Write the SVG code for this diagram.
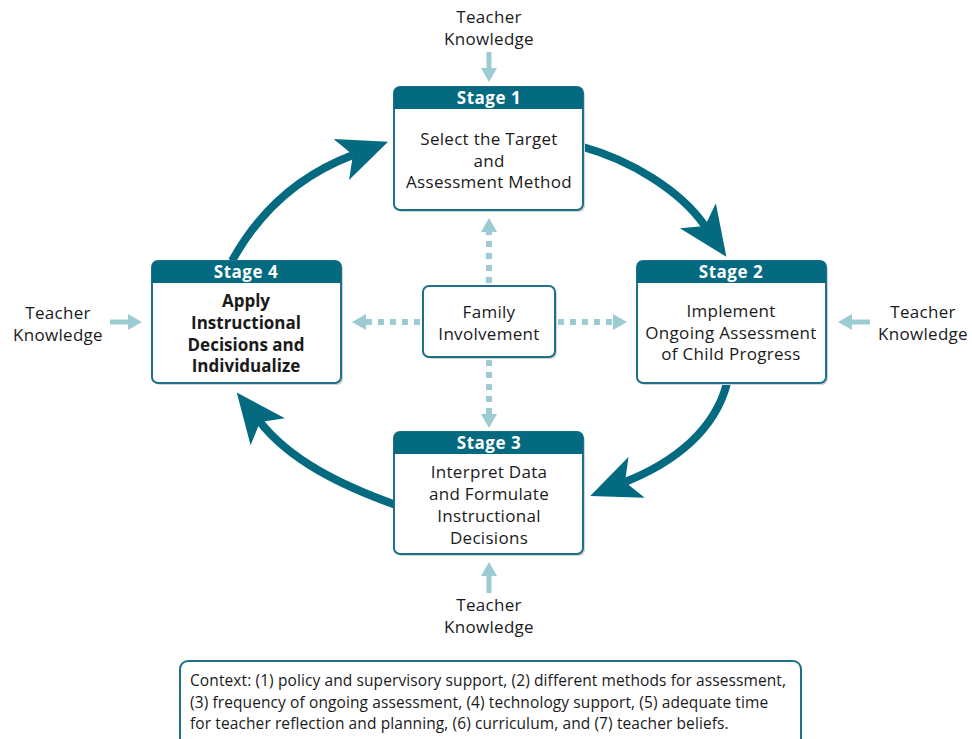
<svg xmlns="http://www.w3.org/2000/svg" width="972" height="739" viewBox="0 0 972 739">
<defs>
<style>
.box{fill:#fff;stroke:#1d7087;stroke-width:2}
.shadow{fill:#d0d4d6}
.hdr{fill:#036a80}
.ht{font-family:"Open Sans","Liberation Sans",sans-serif;font-size:17px;font-weight:bold;letter-spacing:0.5px;fill:#fff;text-anchor:middle}
.t{font-family:"Open Sans","Liberation Sans",sans-serif;font-size:17px;letter-spacing:0.3px;fill:#1a1a1a;text-anchor:middle}
.tb{font-weight:bold;letter-spacing:0px}
.ctx{font-family:"Open Sans","Liberation Sans",sans-serif;font-size:15.5px;letter-spacing:0.1px;fill:#1a1a1a}
.big{fill:none;stroke:#036a80;stroke-width:8}
.dot{fill:none;stroke:#9ccbd3;stroke-width:6;stroke-dasharray:6 6}
.tk{fill:none;stroke:#9ccbd3;stroke-width:5}
.lb{fill:#9ccbd3}
</style>
<marker id="bigHead" markerUnits="userSpaceOnUse" orient="auto" refX="0" refY="0" markerWidth="60" markerHeight="50" viewBox="-14 -24 52 48" overflow="visible">
<path d="M36,0 L-12,-21 L0,0 L-12,21 Z" fill="#036a80"/>
</marker>
</defs>

<g id="connectors">
<path class="big" d="M583,147 C630,160 680,190 705,226" marker-end="url(#bigHead)"/>
<path class="big" d="M727,383 C715,430 675,462 625,482" marker-end="url(#bigHead)"/>
<path class="big" d="M396,505 C340,485 290,460 260,422" marker-end="url(#bigHead)"/>
<path class="big" d="M232,261 C260,210 300,175 353,155" marker-end="url(#bigHead)"/>

<path class="dot" d="M489,283 V232"/>
<polygon class="lb" points="489,218 481,232 497,232"/>
<path class="dot" d="M489,360 V414"/>
<polygon class="lb" points="489,428 481,414 497,414"/>
<path class="dot" d="M420,322 H366"/>
<polygon class="lb" points="352,322 366,314 366,330"/>
<path class="dot" d="M558,322 H613"/>
<polygon class="lb" points="627,322 613,314 613,330"/>

<path class="tk" d="M489,52 V70"/>
<polygon class="lb" points="489,82 481,68 497,68"/>
<path class="tk" d="M110,322 H130"/>
<polygon class="lb" points="142,322 128,314 128,330"/>
<path class="tk" d="M870,322 H850"/>
<polygon class="lb" points="838,322 852,314 852,330"/>
<path class="tk" d="M489,593 V575"/>
<polygon class="lb" points="489,562 481,576 497,576"/>
</g>

<g id="tk-top">
<text class="t" x="489" y="23">Teacher</text>
<text class="t" x="489" y="44.5">Knowledge</text>
</g>
<g id="tk-left">
<text class="t" x="58" y="319">Teacher</text>
<text class="t" x="58" y="341">Knowledge</text>
</g>
<g id="tk-right">
<text class="t" x="923" y="318">Teacher</text>
<text class="t" x="923" y="339.5">Knowledge</text>
</g>
<g id="tk-bottom">
<text class="t" x="489" y="611">Teacher</text>
<text class="t" x="489" y="633">Knowledge</text>
</g>

<g id="stage1">
<rect class="shadow" x="396" y="89" width="189" height="123" rx="6"/>
<rect class="box" x="394" y="87" width="189" height="123" rx="6"/>
<path class="hdr" d="M394,109 V93 Q394,87 400,87 H577 Q583,87 583,93 V109 Z"/>
<text class="ht" x="489" y="104">Stage 1</text>
<text class="t" x="489" y="145">Select the Target</text>
<text class="t" x="489" y="166.5">and</text>
<text class="t" x="489" y="188">Assessment Method</text>
</g>

<g id="stage2">
<rect class="shadow" x="639" y="263" width="189" height="122" rx="6"/>
<rect class="box" x="637" y="261" width="189" height="122" rx="6"/>
<path class="hdr" d="M637,283 V267 Q637,261 643,261 H820 Q826,261 826,267 V283 Z"/>
<text class="ht" x="731" y="278">Stage 2</text>
<text class="t" x="731" y="317">Implement</text>
<text class="t" x="731" y="338.5">Ongoing Assessment</text>
<text class="t" x="731" y="360">of Child Progress</text>
</g>

<g id="stage3">
<rect class="shadow" x="396" y="434" width="189" height="122" rx="6"/>
<rect class="box" x="394" y="432" width="189" height="122" rx="6"/>
<path class="hdr" d="M394,454 V438 Q394,432 400,432 H577 Q583,432 583,438 V454 Z"/>
<text class="ht" x="489" y="449">Stage 3</text>
<text class="t" x="489" y="478">Interpret Data</text>
<text class="t" x="489" y="500">and Formulate</text>
<text class="t" x="489" y="522">Instructional</text>
<text class="t" x="489" y="543.5">Decisions</text>
</g>

<g id="stage4">
<rect class="shadow" x="154" y="263" width="189" height="122" rx="6"/>
<rect class="box" x="152" y="261" width="189" height="122" rx="6"/>
<path class="hdr" d="M152,283 V267 Q152,261 158,261 H335 Q341,261 341,267 V283 Z"/>
<text class="ht" x="246" y="278">Stage 4</text>
<text class="t tb" x="246" y="307">Apply</text>
<text class="t tb" x="246" y="329">Instructional</text>
<text class="t tb" x="246" y="350.5">Decisions and</text>
<text class="t tb" x="246" y="372">Individualize</text>
</g>

<g id="family">
<rect class="shadow" x="425" y="288" width="132" height="71" rx="6"/>
<rect class="box" x="423" y="286" width="132" height="71" rx="6"/>
<text class="t" x="489" y="318">Family</text>
<text class="t" x="489" y="340">Involvement</text>
</g>

<g id="context">
<rect class="box" x="180" y="661" width="621" height="90" rx="8"/>
<text class="ctx" x="190" y="686">Context: (1) policy and supervisory support, (2) different methods for assessment,</text>
<text class="ctx" x="190" y="707.5">(3) frequency of ongoing assessment, (4) technology support, (5) adequate time</text>
<text class="ctx" x="190" y="729">for teacher reflection and planning, (6) curriculum, and (7) teacher beliefs.</text>
</g>
</svg>
